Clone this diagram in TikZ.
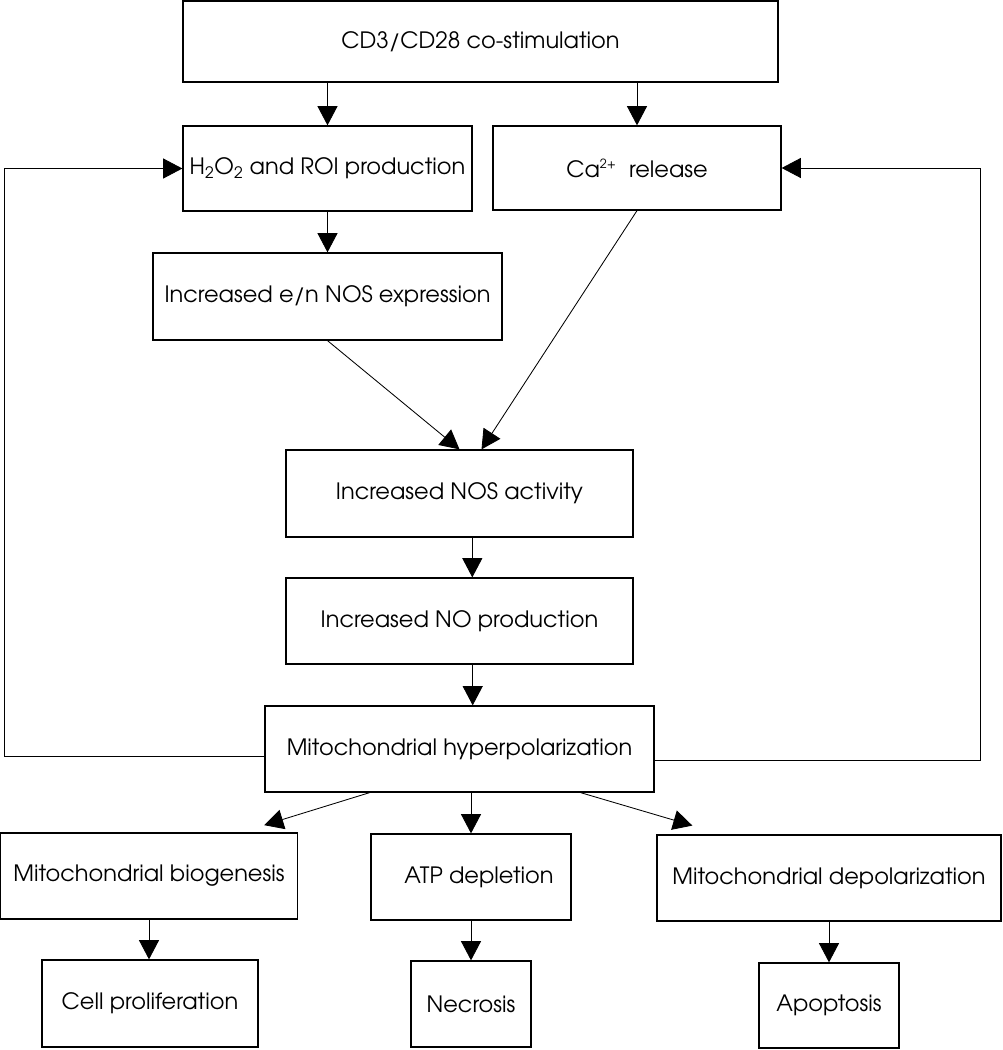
\documentclass[tikz,border=0pt]{standalone}
\usepackage{fontspec}
\setmainfont{TeX Gyre Adventor}
\usetikzlibrary{arrows.meta}

\begin{document}
\begin{tikzpicture}[x=0.025cm, y=-0.025cm, font=\fontsize{16}{19}\selectfont,
        box/.style n args={2}{draw, line width=0.9pt, inner sep=0pt, align=center,
            minimum width=#1*0.025cm, minimum height=#2*0.025cm},
        arr/.style={line width=0.6pt, -{Triangle[length=4.8mm, width=5mm]}}]
        \useasboundingbox (0,0) rectangle (1003,1050);
        % boxes
        \node[box={595}{81}] (cd) at (480.5,41.5) {CD3/CD28 co-stimulation};
        \node[box={289}{85}] (hto) at (327.5,168.5) {H\textsubscript{2}O\textsubscript{2} and ROI production};
        \node[box={288}{84}] (ca) at (637,168) {Ca\textsuperscript{\small 2+}\ \ release};
        \node[box={349}{87}] (nosexp) at (327.5,296.5) {Increased e/n NOS expression};
        \node[box={347}{87}] (nosact) at (459.5,493.5) {Increased NOS activity};
        \node[box={347}{86}] (noprod) at (459.5,621) {Increased NO production};
        \node[box={389}{86}] (hyper) at (459.5,749) {Mitochondrial hyperpolarization};
        \node[box={297}{86}] (biogen) at (149,876) {Mitochondrial biogenesis};
        \node[box={200}{86}] (atp) at (471,877) {\hspace{0.4cm}ATP depletion};
        \node[box={344}{86}] (depol) at (829,878) {Mitochondrial depolarization};
        \node[box={216}{87}] (cell) at (150,1003.5) {Cell proliferation};
        \node[box={120}{86}] (necro) at (471,1004) {Necrosis};
        \node[box={140}{85}] (apop) at (829,1005.5) {Apoptosis};
        \coordinate (lbend) at (4,756);
        \coordinate (rbend) at (980,760);
        % arrows
        \draw[arr] (hto.north |- cd.south) -- (hto.north);
        \draw[arr] (ca.north |- cd.south) -- (ca.north);
        \draw[arr] (hto.south) -- (nosexp.north);
        \draw[arr] (nosexp.south) -- (nosact.north);
        \draw[arr] (ca.south) -- ([xshift=5.5mm]nosact.north);
        \draw[arr] ([xshift=3.2mm]nosact.south) -- ([xshift=3.2mm]noprod.north);
        \draw[arr] ([xshift=3.3mm]noprod.south) -- ([xshift=3.3mm]hyper.north);
        \draw[arr] (atp.north |- hyper.south) -- (atp.north);
        \draw[arr] ([xshift=2.63cm]hyper.south west) -- ([xshift=-0.85cm, yshift=0.18cm]biogen.north east);
        \draw[arr] ([xshift=-1.85cm]hyper.south east) -- ([xshift=0.9cm, yshift=0.22cm]depol.north west);
        \draw[arr] (biogen.south) -- (biogen.south |- cell.north);
        \draw[arr] (atp.south) -- (necro.north);
        \draw[arr] (depol.south) -- (apop.north);
        % feedback loops
        \draw[arr] (hyper.west |- lbend) -- (lbend) |- (hto.west);
        \draw[arr] (hyper.east |- rbend) -- (rbend) |- (ca.east);
\end{tikzpicture}
\end{document}
